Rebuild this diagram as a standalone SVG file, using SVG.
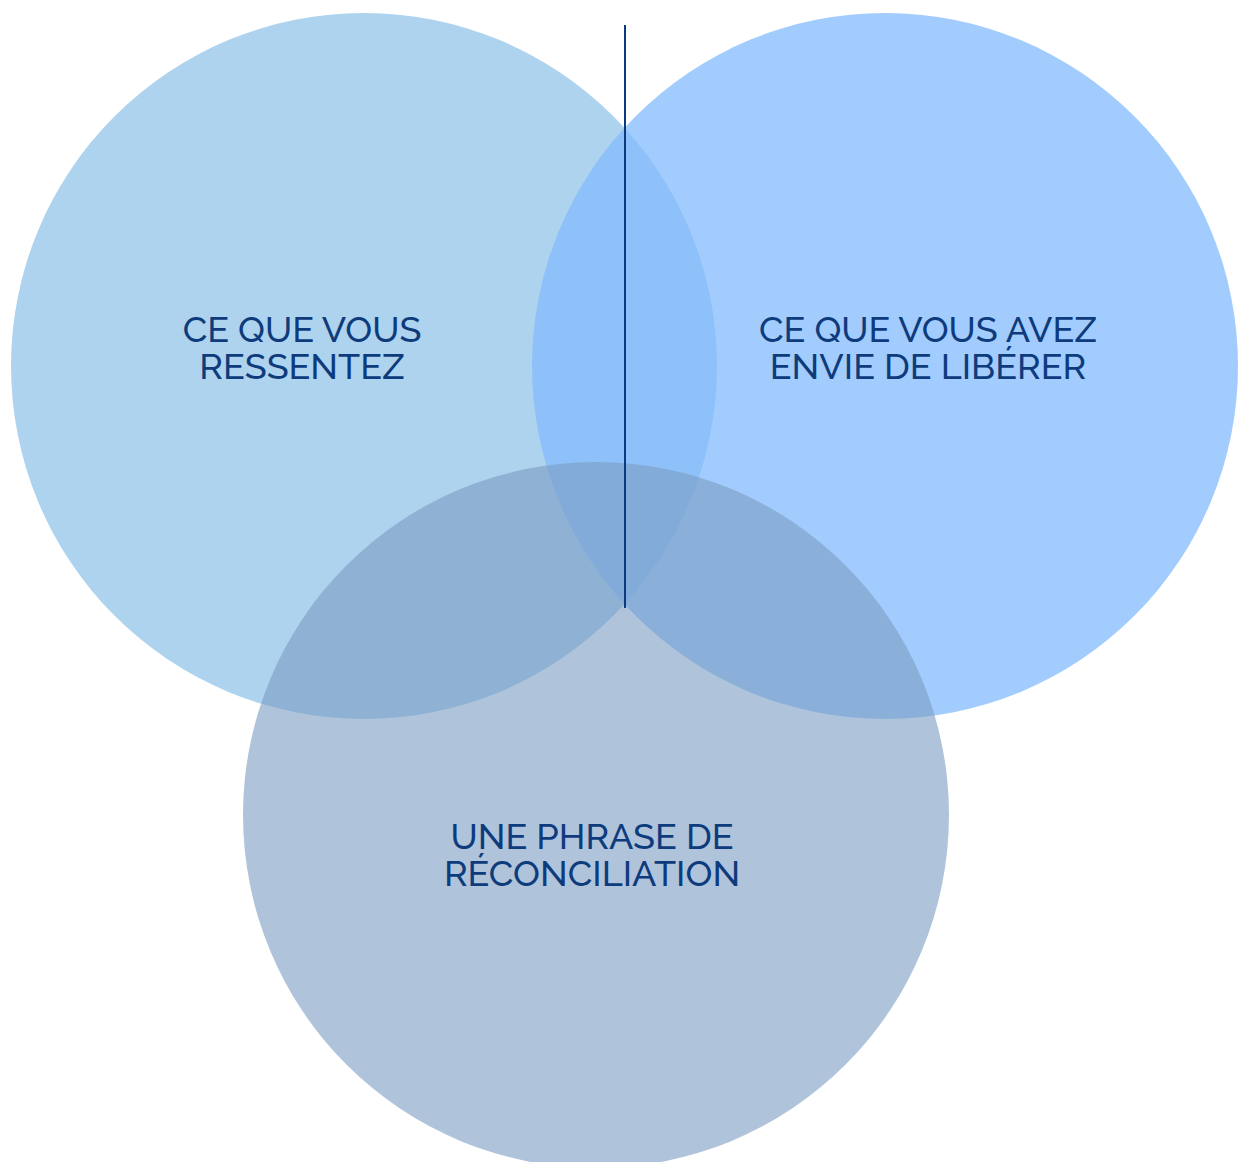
<svg xmlns="http://www.w3.org/2000/svg" width="1241" height="1162" viewBox="0 0 1241 1162">
<style>
.lbl{font-family:"Raleway","Noto Sans","Liberation Sans",sans-serif;font-size:36px;font-weight:500;fill:#0E3B7C;text-anchor:middle}
</style>
<rect width="1241" height="1162" fill="#ffffff"/>
<g id="circle-ressentez">
<circle cx="364" cy="366" r="353" fill="#AED3EE"/>
</g>
<g id="circle-liberer">
<circle cx="885" cy="366" r="353" fill="rgb(131,187,252)" fill-opacity="0.75"/>
</g>
<g id="circle-reconciliation">
<circle cx="596" cy="815" r="353" fill="rgb(122,157,195)" fill-opacity="0.6"/>
</g>
<g id="connectors">
<line x1="625" y1="25" x2="625" y2="608" stroke="#0B3A7E" stroke-width="2"/>
</g>
<g id="label-ressentez">
<text class="lbl"><tspan x="302" y="342">CE QUE VOUS</tspan><tspan x="302" y="379">RESSENTEZ</tspan></text>
</g>
<g id="label-liberer">
<text class="lbl"><tspan x="928" y="342">CE QUE VOUS AVEZ</tspan><tspan x="928" y="379">ENVIE DE LIBÉRER</tspan></text>
</g>
<g id="label-reconciliation">
<text class="lbl"><tspan x="592" y="849">UNE PHRASE DE</tspan><tspan x="592" y="886">RÉCONCILIATION</tspan></text>
</g>
</svg>
